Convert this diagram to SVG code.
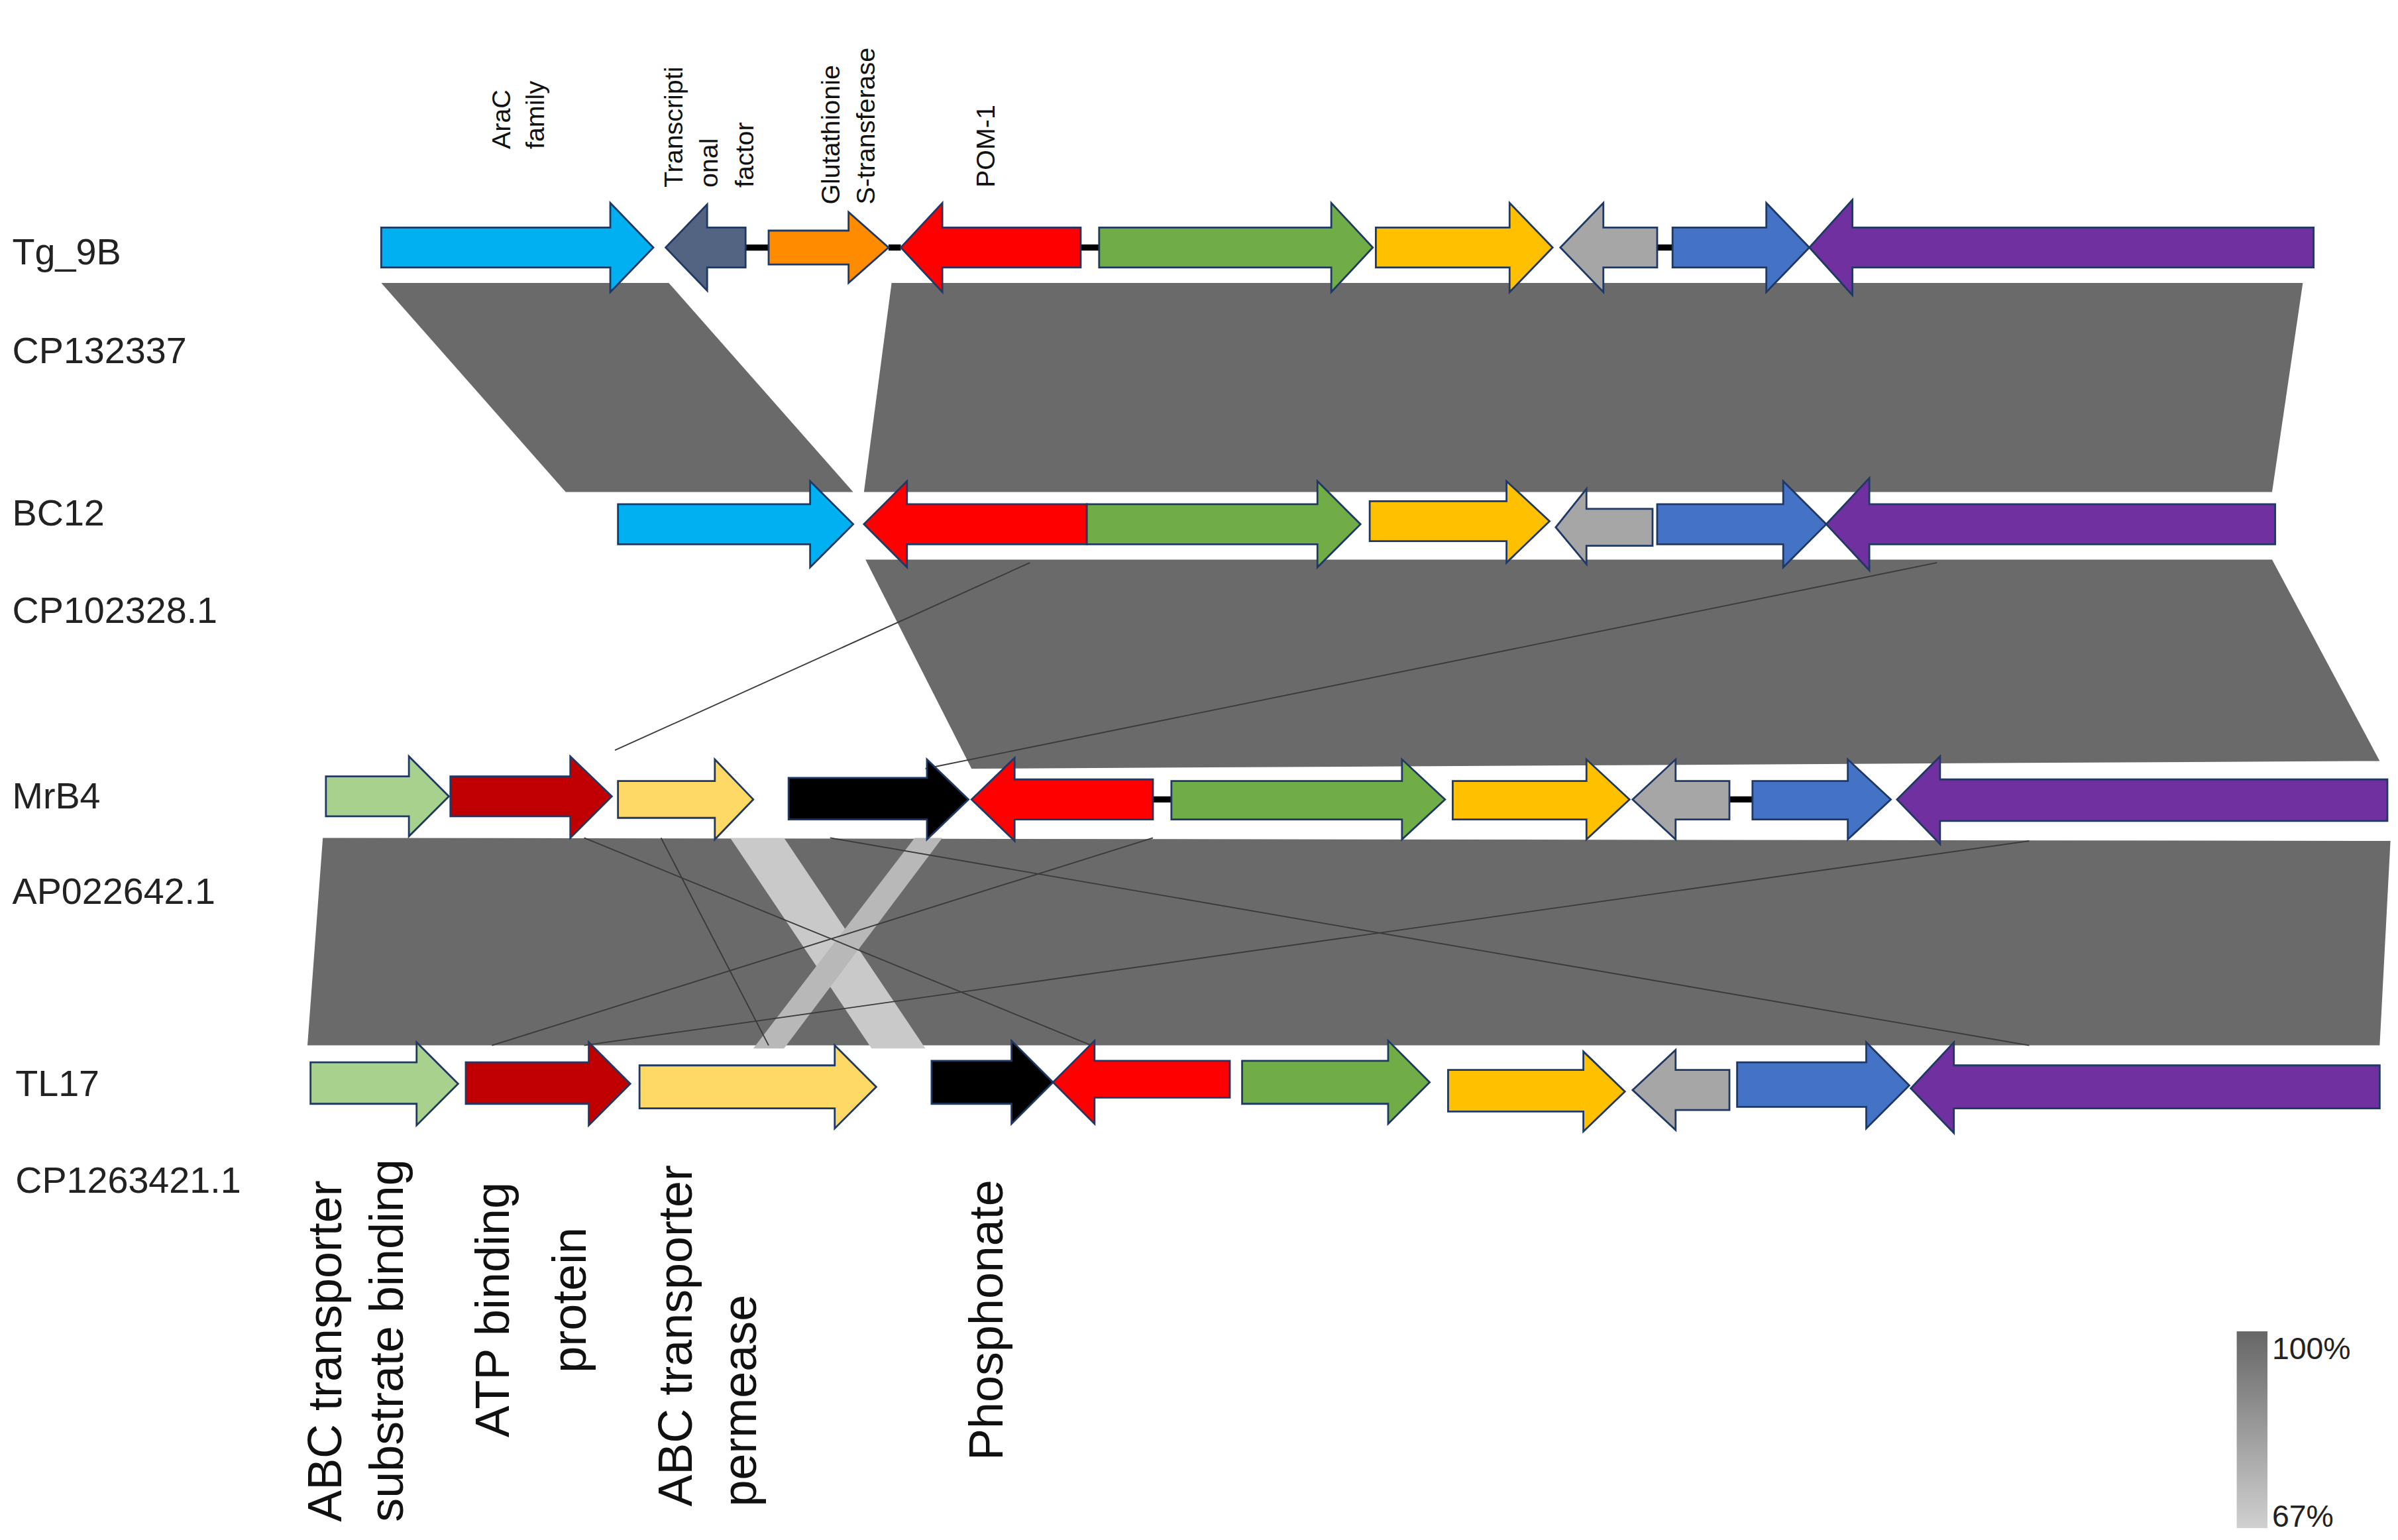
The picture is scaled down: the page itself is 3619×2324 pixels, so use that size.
<svg xmlns="http://www.w3.org/2000/svg" width="3619" height="2324" viewBox="0 0 3619 2324">
<defs>
<linearGradient id="lg" x1="0" y1="0" x2="0" y2="1"><stop offset="0" stop-color="#666"/><stop offset="1" stop-color="#d0d0d0"/></linearGradient>
</defs>
<style>
.g path{stroke:#1f3864;stroke-width:1.2}
.band{fill:#6a6a6a}
.thin{stroke:#3a3a3a;stroke-width:0.8;fill:none}
.lbl{font-family:"Liberation Sans",Arial,sans-serif;font-size:24px;fill:#222}
.top{font-family:"Liberation Sans",Arial,sans-serif;font-size:17px;fill:#111}
.bot{font-family:"Liberation Sans",Arial,sans-serif;font-size:31px;fill:#111}
.link{stroke:#000;stroke-width:4}
</style>
<rect width="3619" height="2324" fill="#fff"/>
<g transform="scale(2.32)">
<g id="connectors">
<polygon class="band" points="248,184 435,184 555,320 368,320"/>
<polygon class="band" points="580,184 1498,184 1478,320 562,320"/>
<polygon class="band" points="563,364 1478,364 1548,495 632,500"/>
<line class="thin" x1="670" y1="366" x2="400" y2="488" stroke="#888"/>
<line class="thin" x1="1260" y1="366" x2="602" y2="500"/>
<polygon class="band" points="210,545 1555,547 1548,680 200,680"/>
<polygon points="475,545 510,545 602,682 567,682" fill="#c9c9c9"/>
<polygon points="595,545 613,545 510,682 490,682" fill="#b8b8b8"/>
<line class="thin" x1="540" y1="545" x2="1320" y2="680"/>
<line class="thin" x1="1320" y1="547" x2="380" y2="680"/>
<line class="thin" x1="380" y1="545" x2="710" y2="680"/>
<line class="thin" x1="430" y1="545" x2="500" y2="680"/>
<line class="thin" x1="750" y1="545" x2="320" y2="680"/>
</g>
<g class="lbl">
<text x="8" y="172">Tg_9B</text>
<text x="8" y="236">CP132337</text>
<text x="8" y="342">BC12</text>
<text x="8" y="405">CP102328.1</text>
<text x="8" y="526">MrB4</text>
<text x="8" y="588">AP022642.1</text>
<text x="10" y="713">TL17</text>
<text x="10" y="776">CP1263421.1</text>
</g>
<g id="toplabels" class="top">
<text transform="translate(332,97) rotate(-90)">AraC</text>
<text transform="translate(354,97) rotate(-90)">family</text>
<text transform="translate(444,122) rotate(-90)">Transcripti</text>
<text transform="translate(467,122) rotate(-90)">onal</text>
<text transform="translate(490,122) rotate(-90)">factor</text>
<text transform="translate(546,133) rotate(-90)">Glutathionie</text>
<text transform="translate(569,133) rotate(-90)">S-transferase</text>
<text transform="translate(647,122) rotate(-90)">POM-1</text>
</g>
<g id="botlabels" class="bot">
<text transform="translate(222,990) rotate(-90)">ABC transporter</text>
<text transform="translate(262,990) rotate(-90)">substrate binding</text>
<text transform="translate(331,935) rotate(-90)">ATP binding</text>
<text transform="translate(381,893) rotate(-90)">protein</text>
<text transform="translate(450,980) rotate(-90)">ABC transporter</text>
<text transform="translate(492,980) rotate(-90)">permease</text>
<text transform="translate(652,950) rotate(-90)">Phosphonate</text>
</g>
<g id="row-Tg_9B" class="g">
<line class="link" x1="485" y1="161" x2="500" y2="161"/><line class="link" x1="578" y1="161" x2="586" y2="161"/><line class="link" x1="703" y1="161" x2="715" y2="161"/><line class="link" x1="1078" y1="161" x2="1088" y2="161"/>
<path fill="#00b0f0" d="M248,148 L397,148 L397,132 L425,161 L397,190 L397,174 L248,174Z"/>
<path fill="#526482" d="M485,148 L460,148 L460,133 L433,161 L460,189 L460,174 L485,174Z"/>
<path fill="#ff8c00" d="M500,150 L552,150 L552,138 L578,161 L552,184 L552,172 L500,172Z"/>
<path fill="#ff0000" d="M703,148 L613,148 L613,132 L586,161 L613,190 L613,174 L703,174Z"/>
<path fill="#70ad47" d="M715,148 L866,148 L866,132 L893,161 L866,190 L866,174 L715,174Z"/>
<path fill="#ffc000" d="M895,148 L982,148 L982,132 L1010,161 L982,190 L982,174 L895,174Z"/>
<path fill="#a6a6a6" d="M1078,148 L1043,148 L1043,132 L1015,161 L1043,190 L1043,174 L1078,174Z"/>
<path fill="#4472c4" d="M1088,148 L1149,148 L1149,132 L1177,161 L1149,190 L1149,174 L1088,174Z"/>
<path fill="#7030a0" d="M1505,148 L1205,148 L1205,130 L1177,161 L1205,192 L1205,174 L1505,174Z"/>
</g>
<g id="row-BC12" class="g">
<path fill="#00b0f0" d="M402,328 L527,328 L527,313 L555,341 L527,369 L527,354 L402,354Z"/>
<path fill="#ff0000" d="M707,328 L590,328 L590,313 L562,341 L590,369 L590,354 L707,354Z"/>
<path fill="#70ad47" d="M707,328 L857,328 L857,313 L885,341 L857,369 L857,354 L707,354Z"/>
<path fill="#ffc000" d="M891,326 L980,326 L980,313 L1008,339 L980,366 L980,352 L891,352Z"/>
<path fill="#a6a6a6" d="M1075,331 L1032,331 L1032,318 L1012,343 L1032,367 L1032,355 L1075,355Z"/>
<path fill="#4472c4" d="M1078,328 L1160,328 L1160,313 L1188,341 L1160,369 L1160,354 L1078,354Z"/>
<path fill="#7030a0" d="M1480,328 L1216,328 L1216,311 L1188,341 L1216,371 L1216,354 L1480,354Z"/>
</g>
<g id="row-MrB4" class="g">
<line class="link" x1="750" y1="520" x2="762" y2="520"/><line class="link" x1="1125" y1="520" x2="1140" y2="520"/>
<path fill="#a9d18e" d="M212,505 L266,505 L266,492 L292,518 L266,544 L266,531 L212,531Z"/>
<path fill="#c00000" d="M293,505 L371,505 L371,492 L398,518 L371,545 L371,531 L293,531Z"/>
<path fill="#ffd966" d="M402,508 L465,508 L465,494 L490,520 L465,546 L465,532 L402,532Z"/>
<path fill="#000000" d="M513,506 L603,506 L603,494 L630,520 L603,546 L603,533 L513,533Z"/>
<path fill="#ff0000" d="M750,507 L660,507 L660,493 L632,520 L660,547 L660,533 L750,533Z"/>
<path fill="#70ad47" d="M762,508 L912,508 L912,494 L940,520 L912,546 L912,533 L762,533Z"/>
<path fill="#ffc000" d="M945,508 L1032,508 L1032,494 L1060,520 L1032,546 L1032,533 L945,533Z"/>
<path fill="#a6a6a6" d="M1125,508 L1090,508 L1090,494 L1062,520 L1090,546 L1090,533 L1125,533Z"/>
<path fill="#4472c4" d="M1140,508 L1202,508 L1202,494 L1230,520 L1202,546 L1202,533 L1140,533Z"/>
<path fill="#7030a0" d="M1553,507 L1262,507 L1262,492 L1234,520 L1262,549 L1262,534 L1553,534Z"/>
</g>
<g id="row-TL17" class="g">
<path fill="#a9d18e" d="M202,691 L271,691 L271,678 L298,705 L271,732 L271,718 L202,718Z"/>
<path fill="#c00000" d="M303,691 L383,691 L383,678 L410,705 L383,732 L383,718 L303,718Z"/>
<path fill="#ffd966" d="M416,693 L543,693 L543,680 L570,707 L543,734 L543,721 L416,721Z"/>
<path fill="#000000" d="M606,690 L658,690 L658,677 L685,704 L658,731 L658,718 L606,718Z"/>
<path fill="#ff0000" d="M800,690 L712,690 L712,677 L685,704 L712,731 L712,714 L800,714Z"/>
<path fill="#70ad47" d="M808,690 L903,690 L903,677 L930,704 L903,731 L903,718 L808,718Z"/>
<path fill="#ffc000" d="M942,696 L1030,696 L1030,684 L1057,710 L1030,736 L1030,723 L942,723Z"/>
<path fill="#a6a6a6" d="M1125,696 L1090,696 L1090,683 L1062,709 L1090,735 L1090,722 L1125,722Z"/>
<path fill="#4472c4" d="M1130,691 L1214,691 L1214,678 L1242,706 L1214,734 L1214,720 L1130,720Z"/>
<path fill="#7030a0" d="M1548,693 L1271,693 L1271,678 L1243,708 L1271,737 L1271,721 L1548,721Z"/>
</g>
<g id="legend">
<rect x="1455" y="866" width="20" height="128" fill="url(#lg)"/>
<text x="1478" y="884" font-family="Liberation Sans, Arial, sans-serif" font-size="20" fill="#222">100%</text>
<text x="1478" y="993" font-family="Liberation Sans, Arial, sans-serif" font-size="20" fill="#222">67%</text>
</g>
</g>
</svg>
